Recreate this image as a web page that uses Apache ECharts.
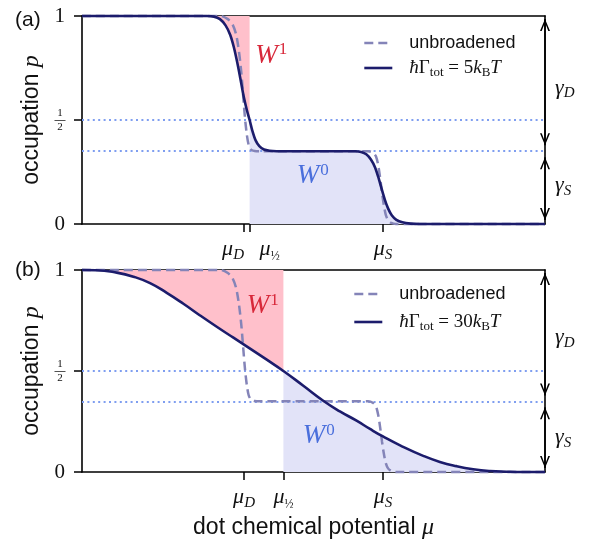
<!DOCTYPE html>
<html>
<head>
<meta charset="utf-8">
<script src="https://cdn.jsdelivr.net/npm/echarts@6/dist/echarts.min.js"></script>
<style>
  html, body { margin: 0; padding: 0; background: #fff; }
  #chart { width: 590px; height: 541px; }
</style>
</head>
<body>
<div id="chart"></div>
<script>
// Dot chemical potential runs over an arbitrary 0–100 scale.
const muD = 35;
const muS = 65;
const muHalfA = 36.2;   // where the 5 kT curve crosses p = 1/2
const muHalfB = 43.5;   // where the 30 kT curve crosses p = 1/2
const pPlateau = 0.35;  // intermediate occupation between the two steps
const yTicks = [0, 0.5, 1];

// occupation p(mu) without lifetime broadening
const unbroadened = [
  [0, 1], [30, 1], [31.5, 0.985], [32.5, 0.96], [33.3, 0.91], [33.9, 0.83],
  [34.4, 0.73], [34.8, 0.62], [35.2, 0.51], [35.6, 0.43], [36.0, 0.38],
  [36.5, 0.358], [37.3, 0.351], [38.5, 0.35], [61.8, 0.35], [62.8, 0.343],
  [63.5, 0.325], [64.0, 0.28], [64.4, 0.22], [64.8, 0.15], [65.2, 0.09],
  [65.6, 0.045], [66.1, 0.018], [66.8, 0.005], [67.8, 0], [100, 0]
];

// hbar Gamma_tot = 5 kT
const broadenedA = [
  [0, 1], [27, 1], [28.5, 0.997], [29.8, 0.985], [31.0, 0.955], [32.0, 0.91],
  [32.8, 0.85], [33.5, 0.78], [34.2, 0.7], [34.9, 0.615], [35.6, 0.548],
  [36.2, 0.5], [36.8, 0.448], [37.5, 0.402], [38.3, 0.374], [39.3, 0.358],
  [40.5, 0.352], [42, 0.35], [59, 0.35], [60.3, 0.346], [61.4, 0.335],
  [62.4, 0.31], [63.3, 0.272], [64.0, 0.225], [64.7, 0.17], [65.4, 0.117],
  [66.1, 0.075], [66.9, 0.042], [67.9, 0.02], [69.2, 0.008], [71, 0.002],
  [73, 0], [100, 0]
];

// hbar Gamma_tot = 30 kT
const broadenedB = [
  [0, 1], [3, 0.999], [7.5, 0.987], [11.1, 0.967], [14.7, 0.935], [18.3, 0.887],
  [21.9, 0.833], [25.5, 0.775], [29.1, 0.719], [32.7, 0.665], [36.3, 0.611],
  [39.9, 0.556], [43.5, 0.5], [47.8, 0.427], [52.1, 0.353], [55.7, 0.3],
  [59.3, 0.254], [62.2, 0.213], [65, 0.176], [68.7, 0.132], [73.7, 0.08],
  [77.3, 0.05], [80.9, 0.029], [84.5, 0.014], [88.1, 0.005], [91.7, 0.0015],
  [95.3, 0], [100, 0]
];

const nameUnbr = 'unbroadened';
const nameA = 'ħΓtot = 5kBT';
const nameB = 'ħΓtot = 30kBT';

const SERIF = '"Liberation Serif", "DejaVu Serif", serif';
const SANS = '"Liberation Sans", Arial, "DejaVu Sans", sans-serif';
const INK = '#111';
const NAVY = '#1c1c6c';
const DASH = '#8484b8';
const DOT = '#7f9ef0';
const PINK = '#ffc0cb';
const LAV = '#e2e3f8';
const RED = '#d8283a';
const BLUE = '#4a6fdc';

// open arrow tip (10 wide, 12 long); apex sits at the centre of a 24x24 box
const CHEVRON = 'path://M12,12 L17,24 L15.3,24 L12,15.4 L8.7,24 L7,24 Z' +
  ' M0,0 L0.02,0.02 L0,0.02 Z M24,0 L23.98,0.02 L24,0.02 Z';

const mathRich = {
  m: { fontFamily: SERIF, fontStyle: 'italic', fontSize: 22, lineHeight: 26, color: INK },
  mR: { fontFamily: SERIF, fontStyle: 'italic', fontSize: 22, lineHeight: 26, color: INK, padding: [0, 0, 0, 40] },
  s: { fontFamily: SERIF, fontStyle: 'italic', fontSize: 15, lineHeight: 15, padding: [12, 0, 0, 0], color: INK },
  sL: { fontFamily: SERIF, fontStyle: 'italic', fontSize: 15, lineHeight: 15, padding: [12, 22, 0, 0], color: INK },
  h: { fontFamily: SERIF, fontSize: 12, lineHeight: 12, padding: [15, 0, 0, 0], color: INK }
};

function near(a, b) { return Math.abs(a - b) < 1e-6; }

function xLabelFormatter(muHalf, shifted) {
  return function (v) {
    if (near(v, muD)) return shifted ? '{m|μ}{sL|D}' : '{m|μ}{s|D}';
    if (near(v, muHalf)) return shifted ? '{mR|μ}{h|½}' : '{m|μ}{h|½}';
    return '{m|μ}{s|S}';
  };
}

const yRich = {
  v: { fontFamily: SERIF, fontSize: 21, color: INK },
  n: { fontFamily: SERIF, fontSize: 11, lineHeight: 10, width: 10, align: 'center', color: INK },
  b: { fontFamily: SANS, fontSize: 11, lineHeight: 4, width: 10, align: 'center', color: INK }
};

function yLabel(v) {
  if (near(v, 1)) return '{v|1}';
  if (near(v, 0)) return '{v|0}';
  return '{n|1}\n{b|\u2014}\n{n|2}';
}

const axisLineStyle = { show: true, onZero: false, lineStyle: { color: '#000', width: 1.6 } };
const tickStyle = { color: '#000', width: 1.5 };

// bottom axis: line, ticks and the labels listed in labelValues
function bottomAxis(grid, tickValues, labelValues, muHalf, shifted, withName) {
  const ax = {
    gridIndex: grid, type: 'value', min: 0, max: 100, position: 'bottom',
    axisLine: axisLineStyle,
    axisTick: { show: true, customValues: tickValues, length: 8, lineStyle: tickStyle },
    axisLabel: {
      show: true, customValues: labelValues, margin: 12,
      formatter: xLabelFormatter(muHalf, shifted), rich: mathRich
    },
    splitLine: { show: false }
  };
  if (withName) {
    ax.name = '{t|dot chemical potential }{g|μ}';
    ax.nameLocation = 'middle';
    ax.nameGap = 42;
    ax.nameTextStyle = {
      rich: {
        t: { fontFamily: SANS, fontSize: 23, color: INK, lineHeight: 28 },
        g: { fontFamily: SERIF, fontStyle: 'italic', fontSize: 24, color: INK, lineHeight: 28 }
      }
    };
  }
  return ax;
}

// extra bottom axis that only carries labels (keeps close labels from colliding)
function labelOnlyAxis(grid, labelValues, muHalf, shifted) {
  return {
    gridIndex: grid, type: 'value', min: 0, max: 100, position: 'bottom',
    axisLine: { show: false }, axisTick: { show: false },
    axisLabel: {
      show: true, customValues: labelValues, margin: 12,
      formatter: xLabelFormatter(muHalf, shifted), rich: mathRich
    },
    splitLine: { show: false }
  };
}

function topAxis(grid) {
  return {
    gridIndex: grid, type: 'value', min: 0, max: 100, position: 'top',
    axisLine: axisLineStyle, axisTick: { show: false }, axisLabel: { show: false }, splitLine: { show: false }
  };
}

function leftAxis(grid) {
  return {
    gridIndex: grid, type: 'value', min: 0, max: 1, interval: 0.5, position: 'left',
    axisLine: axisLineStyle,
    axisTick: { show: true, length: 8, lineStyle: tickStyle },
    axisLabel: { show: true, margin: 17, formatter: yLabel, rich: yRich },
    splitLine: { show: false },
    name: '{t|occupation }{p|p}',
    nameLocation: 'middle',
    nameGap: 35,
    nameTextStyle: {
      rich: {
        t: { fontFamily: SANS, fontSize: 23, color: INK, lineHeight: 28 },
        p: { fontFamily: SERIF, fontStyle: 'italic', fontSize: 24, color: INK, lineHeight: 28 }
      }
    }
  };
}

function rightAxis(grid) {
  return {
    gridIndex: grid, type: 'value', min: 0, max: 1, position: 'right',
    axisLine: axisLineStyle, axisTick: { show: false }, axisLabel: { show: false }, splitLine: { show: false }
  };
}

function textMark(coord, text, rich, distance) {
  return {
    coord: coord,
    symbolSize: 0,
    label: { show: true, position: 'right', distance: distance, formatter: text, rich: rich }
  };
}

const wRich = function (color) {
  return {
    w: { fontFamily: SERIF, fontStyle: 'italic', fontSize: 27, lineHeight: 28, color: color },
    u: { fontFamily: SERIF, fontSize: 17, lineHeight: 17, padding: [0, 0, 11, 1], color: color }
  };
};

const gRich = {
  g: { fontFamily: SERIF, fontStyle: 'italic', fontSize: 22, lineHeight: 26, color: INK },
  s: { fontFamily: SERIF, fontStyle: 'italic', fontSize: 15, lineHeight: 15, padding: [11, 0, 0, 0], color: INK }
};

function panelSeries(xi, yi, broadened, muHalf, solidName, wPos, smoothSolid) {
  const left = broadened.filter(function (d) { return d[0] <= muHalf; });
  const right = broadened.filter(function (d) { return d[0] >= muHalf; });
  const top = 1 - 3 / 208, bot = 4 / 208, gap = 6 / 208;
  return [
    {
      name: 'W1 region ' + yi, type: 'line', xAxisIndex: xi, yAxisIndex: yi,
      data: left, smooth: smoothSolid, symbol: 'none', clip: false, silent: true, z: 1,
      lineStyle: { width: 0 }, areaStyle: { color: PINK, opacity: 1, origin: 'end' },
      markPoint: {
        silent: true, symbol: 'circle', symbolSize: 0,
        data: [textMark(wPos.w1, '{w|W}{u|1}', wRich(RED), 0)]
      }
    },
    {
      name: 'W0 region ' + yi, type: 'line', xAxisIndex: xi, yAxisIndex: yi,
      data: right, smooth: smoothSolid, symbol: 'none', clip: false, silent: true, z: 1,
      lineStyle: { width: 0 }, areaStyle: { color: LAV, opacity: 1, origin: 'start' },
      markPoint: {
        silent: true, symbol: 'circle', symbolSize: 0,
        data: [
          textMark(wPos.w0, '{w|W}{u|0}', wRich(BLUE), 0),
          textMark([100, wPos.gD], '{g|γ}{s|D}', gRich, 10),
          textMark([100, wPos.gS], '{g|γ}{s|S}', gRich, 10)
        ]
      }
    },
    {
      name: nameUnbr, type: 'line', xAxisIndex: xi, yAxisIndex: yi,
      data: unbroadened, smooth: 0.25, symbol: 'none', clip: false, z: 3,
      lineStyle: { color: DASH, width: 2.5, type: [9, 5] },
      itemStyle: { color: DASH },
      markLine: {
        silent: true, symbol: 'none', z: 2,
        lineStyle: { color: DOT, width: 2, type: [2, 3.4] },
        label: { show: false },
        data: [{ yAxis: 0.5 }, { yAxis: pPlateau }]
      }
    },
    {
      name: solidName, type: 'line', xAxisIndex: xi, yAxisIndex: yi,
      data: broadened, smooth: smoothSolid, symbol: 'none', clip: false, z: 4,
      lineStyle: { color: NAVY, width: 2.6 },
      itemStyle: { color: NAVY },
      markLine: {
        silent: true, symbol: [CHEVRON, CHEVRON], symbolSize: 24,
        lineStyle: { color: '#000', width: 1.6, type: 'solid' },
        itemStyle: { color: '#000' },
        label: { show: false },
        data: [
          [{ coord: [100, top] }, { coord: [100, pPlateau + gap] }],
          [{ coord: [100, pPlateau - gap] }, { coord: [100, bot] }]
        ]
      }
    }
  ];
}

const legendRich = {
  t: { fontFamily: SANS, fontSize: 18, lineHeight: 22, color: INK },
  i: { fontFamily: SERIF, fontStyle: 'italic', fontSize: 19, lineHeight: 22, color: INK },
  r: { fontFamily: SERIF, fontSize: 19, lineHeight: 22, color: INK },
  s: { fontFamily: SERIF, fontSize: 13, lineHeight: 13, padding: [9, 0, 0, 0], color: INK }
};

function legendText(name) {
  if (name === nameUnbr) return '{t|unbroadened}';
  const k = name === nameA ? '5' : '30';
  return '{i|ħ}{r|Γ}{s|tot}{r| = ' + k + '}{i|k}{s|B}{i|T}';
}

function legend(solidName, left, top, gap) {
  return {
    data: [nameUnbr, solidName], orient: 'vertical', left: left, top: top,
    itemWidth: 28, itemHeight: 14, itemGap: gap, padding: 0,
    selectedMode: false, formatter: legendText,
    itemStyle: { opacity: 0 },
    lineStyle: { width: 2.6 },
    textStyle: { padding: [0, 0, 0, 12], rich: legendRich }
  };
}

const chart = echarts.init(document.getElementById('chart'), null, { renderer: 'canvas' });
chart.setOption({
  animation: false,
  backgroundColor: '#fff',
  title: [
    { text: '(a)', left: 10, top: 5, textStyle: { fontFamily: SANS, fontSize: 21, fontWeight: 'normal', color: INK } },
    { text: '(b)', left: 10, top: 255, textStyle: { fontFamily: SANS, fontSize: 21, fontWeight: 'normal', color: INK } }
  ],
  grid: [
    { left: 82, top: 16, width: 463, height: 208 },
    { left: 82, top: 270, width: 463, height: 206 }
  ],
  legend: [
    legend(nameA, 363, 34, 5),
    legend(nameB, 353, 285, 8)
  ],
  xAxis: [
    bottomAxis(0, [muD, muHalfA, muS], [muD], muHalfA, true, false),   // 0
    topAxis(0),                                                         // 1
    labelOnlyAxis(0, [muHalfA, muS], muHalfA, true),                    // 2
    bottomAxis(1, [muD, muHalfB, muS], [muD, muHalfB, muS], muHalfB, false, true), // 3
    topAxis(1)                                                          // 4
  ],
  yAxis: [leftAxis(0), rightAxis(0), leftAxis(1), rightAxis(1)],
  series: [].concat(
    panelSeries(0, 0, broadenedA, muHalfA, nameA, { w1: [37.4, 0.81], w0: [46.4, 0.23], gD: 0.655, gS: 0.185 }, 0.25),
    panelSeries(3, 2, broadenedB, muHalfB, nameB, { w1: [35.6, 0.82], w0: [47.7, 0.18], gD: 0.665, gS: 0.17 }, 0.5)
  )
});
</script>
</body>
</html>
